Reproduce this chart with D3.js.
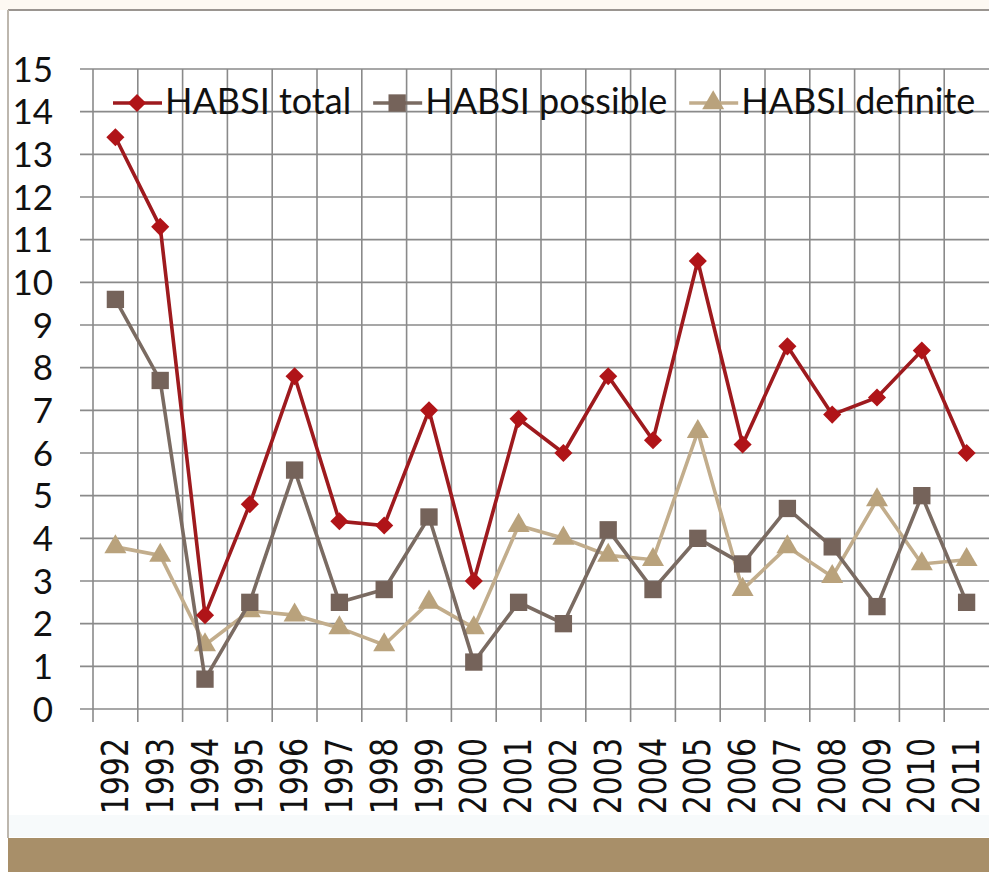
<!DOCTYPE html>
<html lang="en">
<head>
    <meta charset="UTF-8">
    <style>
        body { margin: 0; background: #fff; }
        svg { display: block; }
        .grid line { stroke: #8a8a8a; stroke-width: 1.6px; }
        .ylab { font: 35px Lato, "Open Sans", sans-serif; fill: #111; }
        .xlab { font: 30px "DejaVu Sans", sans-serif; fill: #111; }
        .legend text { font: 36px Lato, "Open Sans", sans-serif; fill: #111; }
    </style>
    <script src="https://cdn.jsdelivr.net/npm/d3@7"></script>
</head>
<body>
<svg width="989" height="872"></svg>
<script>
    var years = ["1992","1993","1994","1995","1996","1997","1998","1999","2000","2001",
                 "2002","2003","2004","2005","2006","2007","2008","2009","2010","2011"];
    var total    = [13.4, 11.3, 2.2, 4.8, 7.8, 4.4, 4.3, 7.0, 3.0, 6.8, 6.0, 7.8, 6.3, 10.5, 6.2, 8.5, 6.9, 7.3, 8.4, 6.0];
    var possible = [9.6, 7.7, 0.7, 2.5, 5.6, 2.5, 2.8, 4.5, 1.1, 2.5, 2.0, 4.2, 2.8, 4.0, 3.4, 4.7, 3.8, 2.4, 5.0, 2.5];
    var definite = [3.8, 3.6, 1.5, 2.3, 2.2, 1.9, 1.5, 2.5, 1.9, 4.3, 4.0, 3.6, 3.5, 6.5, 2.8, 3.8, 3.1, 4.9, 3.4, 3.5];
    var yTicks = d3.range(0, 16);

    var series = [
        {name: "HABSI total",    values: total,    line: "#9e1a1e", fill: "#b01418", symbol: d3.symbolDiamond2, size: 210},
        {name: "HABSI possible", values: possible, line: "#7a6b62", fill: "#75635a", symbol: d3.symbolSquare,   size: 300},
        {name: "HABSI definite", values: definite, line: "#c2ad8c", fill: "#b9a27c", symbol: d3.symbolTriangle, size: 210}
    ];

    var svg = d3.select("svg");

    // page frame and bottom band
    svg.append("rect").attr("x", 0).attr("y", 0).attr("width", 989).attr("height", 10).attr("fill", "#fdf9f2");
    svg.append("line").attr("x1", 8).attr("x2", 989).attr("y1", 10).attr("y2", 10)
        .attr("stroke", "#9a9590").attr("stroke-width", 2);
    svg.append("line").attr("x1", 8).attr("x2", 8).attr("y1", 10).attr("y2", 838)
        .attr("stroke", "#bdb7ae").attr("stroke-width", 2);
    svg.append("rect").attr("x", 9).attr("y", 815).attr("width", 980).attr("height", 22).attr("fill", "#f7fafb");
    svg.append("rect").attr("x", 8).attr("y", 838).attr("width", 981).attr("height", 34).attr("fill", "#a88f69");

    var x = d3.scaleBand().domain(years).range([93, 93 + 20 * 44.8]);
    var y = d3.scaleLinear().domain([0, 15]).range([709, 69]);

    var grid = svg.append("g").attr("class", "grid");
    grid.selectAll(".h").data(yTicks).enter().append("line")
        .attr("x1", 80).attr("x2", 989)
        .attr("y1", function(d) { return y(d); })
        .attr("y2", function(d) { return y(d); });
    grid.selectAll(".v").data(years).enter().append("line")
        .attr("x1", function(d) { return x(d); })
        .attr("x2", function(d) { return x(d); })
        .attr("y1", y(15)).attr("y2", y(0) + 13);

    svg.append("g").selectAll("text").data(yTicks).enter().append("text")
        .attr("class", "ylab")
        .attr("x", 53)
        .attr("y", function(d) { return y(d); })
        .attr("dy", "0.36em")
        .attr("text-anchor", "end")
        .text(function(d) { return d; });

    svg.append("g").selectAll("text").data(years).enter().append("text")
        .attr("class", "xlab")
        .attr("text-anchor", "end")
        .attr("dominant-baseline", "central")
        .attr("transform", function(d) {
            return "translate(" + (x(d) + x.bandwidth() / 2) + ",738) rotate(-90) scale(1,1.22)";
        })
        .text(function(d) { return d; });

    var line = d3.line()
        .x(function(d, i) { return x(years[i]) + x.bandwidth() / 2; })
        .y(function(d) { return y(d); });

    // draw in reverse so total sits on top
    series.slice().reverse().forEach(function(s) {
        var g = svg.append("g");
        g.append("path").attr("d", line(s.values))
            .attr("fill", "none").attr("stroke", s.line).attr("stroke-width", 3.6);
        g.selectAll("path.m").data(s.values).enter().append("path")
            .attr("class", "m")
            .attr("d", d3.symbol().type(s.symbol).size(s.size))
            .attr("fill", s.fill)
            .attr("transform", function(d, i) {
                return "translate(" + (x(years[i]) + x.bandwidth() / 2) + "," + y(d) + ")";
            });
    });

    // legend
    var legend = svg.append("g").attr("class", "legend");
    var lx = 113;
    series.forEach(function(s) {
        var item = legend.append("g").attr("transform", "translate(" + lx + ",103)");
        item.append("line").attr("x1", 0).attr("x2", 49).attr("y1", 0).attr("y2", 0)
            .attr("stroke", s.line).attr("stroke-width", 3.6);
        item.append("path").attr("d", d3.symbol().type(s.symbol).size(s.size))
            .attr("fill", s.fill).attr("transform", "translate(24,0)");
        var t = item.append("text").attr("x", 52).attr("y", 11).text(s.name);
        lx += 52 + t.node().getComputedTextLength() + 22;
    });
</script>
</body>
</html>
